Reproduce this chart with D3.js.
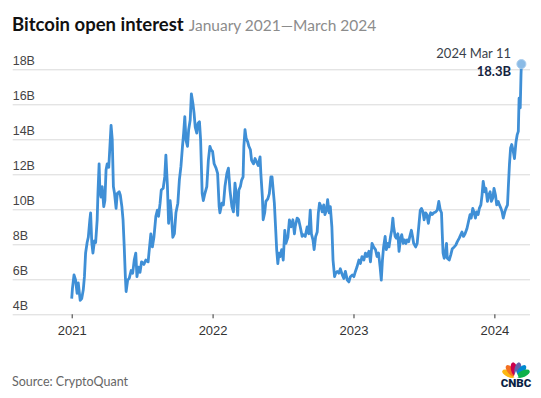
<!DOCTYPE html>
<html>
<head>
<meta charset="utf-8">
<script src="https://cdn.jsdelivr.net/npm/d3@7"></script>
<style>
  body { margin: 0; background: #fff; }
  svg { display: block; font-family: Lato, "Open Sans", sans-serif; }
  .axis--y .domain, .axis--x .domain { display: none; }
  .axis--y line { stroke: #d9d9d9; }
  .axis--y text { fill: #444; font-size: 12.5px; }
  .axis--x line { stroke: #333; }
  .axis--x text { fill: #333; font-size: 13px; }
</style>
</head>
<body>
<svg id="chart" width="541" height="398"></svg>
<script>
// data: days since startDate, open interest in billions
var startDate = "2021-01-01";
var endDate = "2024-03-11";

var dayOffsets = [
  0, 2, 6, 10, 14, 17, 22, 26, 30, 33, 36, 40, 43, 47, 49, 52, 55, 59, 62, 66,
  68, 71, 73, 76, 79, 83, 86, 89, 92, 96, 99, 102, 105, 108, 111, 115, 118, 123, 126, 130,
  133, 136, 139, 141, 145, 149, 154, 158, 162, 166, 169, 173, 177, 181, 187, 192, 198, 201, 205, 209,
  213, 218, 222, 225, 229, 232, 237, 241, 244, 248, 251, 255, 258, 262, 266, 270, 275, 279, 283, 287,
  290, 293, 296, 300, 303, 307, 310, 314, 317, 320, 324, 327, 331, 334, 338, 341, 345, 350, 354, 358,
  361, 365, 369, 374, 378, 382, 384, 389, 393, 397, 402, 406, 410, 415, 419, 423, 426, 430, 433, 437,
  440, 444, 446, 449, 452, 456, 459, 463, 466, 471, 475, 479, 483, 488, 490, 494, 496, 500, 503, 508,
  512, 516, 519, 522, 525, 529, 531, 534, 537, 540, 544, 548, 552, 555, 560, 564, 568, 573, 577, 579,
  584, 588, 592, 597, 601, 605, 610, 614, 618, 621, 625, 628, 632, 636, 639, 642, 646, 649, 653, 656,
  660, 663, 667, 670, 674, 677, 681, 684, 688, 692, 696, 701, 705, 709, 714, 718, 722, 727, 731, 735,
  739, 744, 748, 752, 757, 761, 765, 770, 774, 778, 782, 787, 791, 795, 799, 802, 805, 808, 812, 815,
  819, 822, 826, 829, 832, 834, 838, 841, 845, 848, 852, 855, 859, 862, 866, 869, 873, 876, 880, 883,
  886, 891, 895, 899, 903, 906, 910, 913, 917, 920, 924, 927, 930, 934, 938, 943, 947, 951, 955, 958,
  960, 962, 965, 967, 971, 973, 978, 982, 986, 991, 995, 999, 1004, 1008, 1011, 1015, 1019, 1024, 1028, 1032,
  1035, 1039, 1042, 1046, 1049, 1053, 1056, 1060, 1063, 1066, 1070, 1073, 1077, 1080, 1084, 1087, 1091, 1094, 1098, 1101,
  1105, 1108, 1112, 1115, 1118, 1122, 1125, 1129, 1131, 1134, 1137, 1140, 1144, 1147, 1151, 1154, 1157, 1159, 1162, 1164,
  1165
];

var openInterest = [
  4.9, 5.5, 6.25, 5.96, 5.2, 5.8, 4.8, 4.9, 5.4, 6.15, 7.5, 8.1, 8.4, 9.4, 9.8, 8.1, 7.5, 8.2, 8.1, 9.4,
  10.9, 12.6, 11.1, 10.7, 11.3, 10.15, 10.5, 12.25, 12.6, 12.4, 13.6, 14.8, 14.0, 11.3, 10.9, 10.05, 10.9, 11.0, 10.8, 10.15,
  9.4, 7.9, 6.15, 5.3, 5.95, 6.05, 6.5, 6.35, 7.1, 7.5, 6.15, 6.7, 6.4, 7.0, 6.85, 7.1, 7.0, 7.7, 8.6, 7.85,
  8.4, 9.6, 9.95, 9.6, 10.35, 11.1, 11.2, 11.85, 13.1, 11.3, 9.2, 10.5, 9.8, 8.4, 8.6, 9.8, 10.35, 11.7, 12.45, 13.6,
  14.35, 15.3, 13.95, 13.6, 14.55, 15.1, 16.6, 16.05, 15.5, 14.7, 14.35, 14.9, 15.0, 13.95, 10.9, 10.5, 10.9, 11.3, 12.8, 13.6,
  13.4, 13.3, 12.6, 12.35, 12.05, 10.15, 9.8, 10.35, 10.25, 11.3, 12.05, 12.35, 11.1, 10.15, 9.85, 11.5, 10.9, 9.65, 11.1, 11.3,
  11.65, 11.85, 13.6, 14.55, 14.05, 13.85, 13.6, 13.4, 12.8, 12.6, 12.9, 12.7, 12.5, 13.0, 12.05, 10.7, 9.4, 9.8, 10.45, 10.6,
  10.9, 11.85, 11.85, 11.1, 10.35, 8.6, 7.7, 6.9, 7.5, 7.3, 7.7, 7.1, 8.8, 8.05, 8.4, 9.4, 9.0, 9.4, 8.6, 9.0,
  9.5, 9.4, 9.0, 8.45, 8.55, 8.45, 9.0, 8.6, 9.95, 8.6, 8.25, 7.7, 8.45, 8.7, 9.8, 10.35, 10.15, 9.85, 10.25, 9.7,
  9.95, 10.55, 9.8, 10.15, 9.0, 7.1, 6.15, 6.35, 6.45, 6.35, 6.6, 6.25, 6.05, 6.45, 5.95, 5.85, 6.15, 6.25, 6.15, 6.45,
  6.7, 7.1, 6.9, 7.3, 7.1, 7.5, 7.3, 7.6, 7.0, 8.05, 7.85, 7.7, 7.3, 7.5, 6.7, 5.95, 7.1, 7.85, 8.45, 7.7,
  8.05, 7.85, 8.45, 8.8, 9.5, 9.0, 8.45, 8.35, 8.6, 7.6, 8.35, 8.55, 8.05, 8.25, 8.05, 8.25, 8.15, 8.45, 8.8, 8.45,
  8.05, 7.85, 8.05, 9.0, 9.95, 10.05, 9.85, 9.4, 9.8, 9.7, 9.2, 9.6, 9.8, 9.7, 9.8, 9.85, 9.95, 10.45, 9.95, 9.8,
  8.6, 7.5, 7.2, 7.3, 8.05, 7.2, 7.1, 7.4, 7.75, 7.85, 7.95, 8.15, 8.35, 8.55, 8.7, 8.45, 8.6, 8.9, 9.3, 9.7,
  9.5, 10.05, 9.85, 9.5, 9.85, 9.7, 10.05, 10.25, 10.8, 11.6, 11.0, 11.2, 10.45, 10.8, 11.0, 10.45, 10.65, 11.2, 10.8, 10.25,
  10.45, 10.25, 10.05, 9.85, 9.5, 9.85, 10.05, 10.25, 11.2, 12.55, 13.5, 13.7, 13.3, 12.9, 13.85, 14.25, 14.45, 16.35, 15.8, 17.7,
  18.3
];

var yTicks = [4, 6, 8, 10, 12, 14, 16, 18];
var yearTicks = ["2021", "2022", "2023", "2024"];

var titleText = "Bitcoin open interest";
var subtitleText = "January 2021\u2014March 2024";
var sourceText = "Source: CryptoQuant";
var lastDateLabel = "2024 Mar 11";
var lastValueLabel = "18.3B";

var parseDay = d3.timeParse("%Y-%m-%d");
var t0 = parseDay(startDate);

var data = dayOffsets.map(function(d, i) {
  return {date: d3.timeDay.offset(t0, d), value: openInterest[i]};
});

var svg = d3.select("svg#chart");

var grid_left = 12.7, grid_right = 530;

var x = d3.scaleTime()
    .domain([t0, parseDay(endDate)])
    .range([71.7, 521.4]);

var y = d3.scaleLinear()
    .domain([4, 18])
    .range([314.3, 69.3]);

// ====================================================
// title
svg.append("text")
    .attr("x", 12)
    .attr("y", 31)
    .attr("font-size", 18.5)
    .attr("font-weight", 700)
    .attr("fill", "#111")
    .text(titleText)
  .append("tspan")
    .attr("dx", 5)
    .attr("font-weight", 400)
    .attr("font-size", 15.5)
    .attr("fill", "#8c8c8c")
    .text(subtitleText);

// ====================================================
// y gridlines + labels
var gY = svg.append("g")
    .attr("class", "axis axis--y")
    .attr("transform", "translate(" + grid_left + ",0)")
    .call(d3.axisRight(y)
      .tickValues(yTicks)
      .tickSize(grid_right - grid_left)
      .tickFormat(function(d) { return d + "B"; }));

gY.selectAll("text")
    .attr("x", 0)
    .attr("dy", -5)
    .attr("text-anchor", "start");

// ====================================================
// x axis ticks at each year
svg.append("g")
    .attr("class", "axis axis--x")
    .attr("transform", "translate(0," + y(4) + ")")
    .call(d3.axisBottom(x)
      .tickValues(yearTicks.map(function(s) { return parseDay(s + "-01-01"); }))
      .tickSize(4)
      .tickPadding(7)
      .tickFormat(d3.timeFormat("%Y")));

// ====================================================
// the line
var line = d3.line()
    .x(function(d) { return x(d.date); })
    .y(function(d) { return y(d.value); });

svg.append("path")
    .datum(data)
    .attr("fill", "none")
    .attr("stroke", "#3f8fd6")
    .attr("stroke-width", 2.8)
    .attr("stroke-linejoin", "round")
    .attr("d", line);

// last point marker
var last = data[data.length - 1];
svg.append("circle")
    .attr("cx", x(last.date))
    .attr("cy", y(last.value))
    .attr("r", 4.5)
    .attr("fill", "#8bbbe6")
    .attr("stroke", "#a9cdee")
    .attr("stroke-width", 1);

svg.append("text")
    .attr("x", 511)
    .attr("y", 58)
    .attr("text-anchor", "end")
    .attr("font-size", 13)
    .attr("fill", "#3a3f4a")
    .text(lastDateLabel);

svg.append("text")
    .attr("x", 511)
    .attr("y", 75.5)
    .attr("text-anchor", "end")
    .attr("font-size", 13)
    .attr("font-weight", 700)
    .attr("fill", "#15243f")
    .text(lastValueLabel);

// ====================================================
// source
svg.append("text")
    .attr("x", 12)
    .attr("y", 386)
    .attr("font-size", 12.5)
    .attr("fill", "#666")
    .text(sourceText);

// ====================================================
// CNBC peacock logo
var logo = svg.append("g").attr("transform", "translate(516,377)");
var feathers = ["#fcb711", "#f37021", "#cc004c", "#6460aa", "#0089d0", "#0db14b"];
var angles = [-66, -40, -13, 13, 40, 66];
logo.selectAll("ellipse")
  .data(feathers)
  .enter().append("ellipse")
    .attr("cx", 0)
    .attr("cy", -8)
    .attr("rx", 3.3)
    .attr("ry", 7)
    .attr("fill", function(d) { return d; })
    .attr("transform", function(d, i) { return "rotate(" + angles[i] + ")"; });
logo.append("path")
    .attr("d", "M-2.5,0 L0,-6 L2.5,0 Z")
    .attr("fill", "#fff");
svg.append("text")
    .attr("x", 516)
    .attr("y", 387)
    .attr("text-anchor", "middle")
    .attr("font-size", 11.5)
    .attr("font-weight", 900)
    .attr("font-family", "Roboto, sans-serif")
    .attr("fill", "#0a1f44")
    .text("CNBC");
</script>
</body>
</html>
